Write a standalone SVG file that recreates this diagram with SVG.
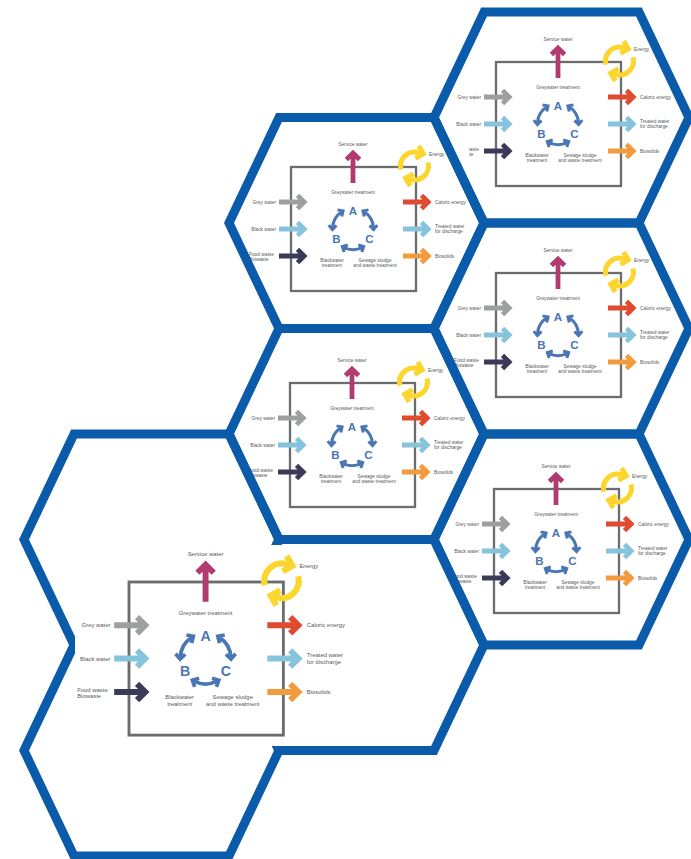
<svg xmlns="http://www.w3.org/2000/svg" xmlns:xlink="http://www.w3.org/1999/xlink" width="691" height="859" viewBox="0 0 691 859">
<style>
.t{font-family:"Liberation Sans",Arial,sans-serif;font-size:4.8px;fill:#58595b}
.m{text-anchor:middle}
.e{text-anchor:end}
.abc{font-family:"Liberation Sans",Arial,sans-serif;font-weight:bold;font-size:11.5px;fill:#4a76b3;text-anchor:middle}
.hex{fill:none;stroke:#0a5ba9;stroke-width:9;stroke-linejoin:miter}
.bg{fill:#ffffff}
</style>
<defs>
  <path id="arr" d="M0,0 H25 M18.5,-6.6 L25.2,0 L18.5,6.6" fill="none" stroke-width="4.8" stroke-linejoin="miter"/>
  <path id="arrUp" d="M0,0 H30 M23.5,-6.6 L30,0 L23.5,6.6" fill="none" stroke-width="4.8" stroke-linejoin="miter"/>
  <path id="ringHalf" d="M-13.5,3.6 A14,14 0 0 1 3.6,-13.5 L7.8,-12.4 M0.9,-7.6 L8.8,-12.1 L4.2,-20" fill="none" stroke-width="5" stroke-linejoin="miter"/>
  <path id="arc" d="M9.31,18.27 A20.5,20.5 0 0 1 -9.31,18.27 M-8.8,23 L-10.7,17.6 L-5.2,16 M8.8,23 L10.7,17.6 L5.2,16" fill="none" stroke="#4a76b3" stroke-width="3" stroke-linejoin="miter"/>
  <g id="dia">
    <rect x="0" y="0" width="125" height="124" fill="none" stroke="#6b6c6e" stroke-width="2.3"/>
    <use href="#arr" x="-12" y="35" stroke="#9e9fa1"/>
    <use href="#arr" x="-12" y="62" stroke="#86c4de"/>
    <use href="#arr" x="-12" y="89" stroke="#3b3a58"/>
    <use href="#arr" x="112" y="35" stroke="#e04a2f"/>
    <use href="#arr" x="112" y="62" stroke="#86c4de"/>
    <use href="#arr" x="112" y="89" stroke="#f29a3c"/>
    <use href="#arrUp" transform="translate(62,16) rotate(-90)" stroke="#b13a70"/>
    <g transform="translate(123.5,-1)" stroke="#fcd62f">
      <use href="#ringHalf"/>
      <use href="#ringHalf" transform="rotate(180)"/>
    </g>
    <g transform="translate(62,62)">
      <use href="#arc"/>
      <use href="#arc" transform="rotate(120)"/>
      <use href="#arc" transform="rotate(240)"/>
    </g>
  </g>
</defs>
<rect x="0" y="0" width="691" height="859" fill="#ffffff"/>

<g id="diagram-c1" transform="translate(496,62)">
  <use href="#dia"/>
  <text class="t m" x="62" y="-21.3">Service water</text>
  <text class="t" x="138" y="-11.3">Energy</text>
  <text class="t m" x="62" y="26.5">Greywater treatment</text>
  <text class="t e" x="-15" y="36.7">Grey water</text>
  <text class="t e" x="-15" y="63.7">Black water</text>
  <text class="t" x="-42" y="89.2">Food waste</text>
  <text class="t" x="-42" y="94">Biowaste</text>
  <text class="t" x="144" y="36.7">Caloric energy</text>
  <text class="t" x="144" y="60.5">Treated water</text>
  <text class="t" x="144" y="66.3">for discharge</text>
  <text class="t" x="144" y="91">Biosolids</text>
  <text class="abc" x="62" y="48">A</text>
  <text class="abc" x="45.5" y="76.3">B</text>
  <text class="abc" x="78.5" y="76.3">C</text>
  <text class="t m" x="41" y="94.8">Blackwater</text>
  <text class="t m" x="41" y="100.3">treatment</text>
  <text class="t m" x="84" y="94.8">Sewage sludge</text>
  <text class="t m" x="84" y="100.3">and waste treatment</text>
</g>

<g id="diagram-c2" transform="translate(496,273)">
  <use href="#dia"/>
  <text class="t m" x="62" y="-21.3">Service water</text>
  <text class="t" x="138" y="-11.3">Energy</text>
  <text class="t m" x="62" y="26.5">Greywater treatment</text>
  <text class="t e" x="-15" y="36.7">Grey water</text>
  <text class="t e" x="-15" y="63.7">Black water</text>
  <text class="t" x="-42" y="89.2">Food waste</text>
  <text class="t" x="-42" y="94">Biowaste</text>
  <text class="t" x="144" y="36.7">Caloric energy</text>
  <text class="t" x="144" y="60.5">Treated water</text>
  <text class="t" x="144" y="66.3">for discharge</text>
  <text class="t" x="144" y="91">Biosolids</text>
  <text class="abc" x="62" y="48">A</text>
  <text class="abc" x="45.5" y="76.3">B</text>
  <text class="abc" x="78.5" y="76.3">C</text>
  <text class="t m" x="41" y="94.8">Blackwater</text>
  <text class="t m" x="41" y="100.3">treatment</text>
  <text class="t m" x="84" y="94.8">Sewage sludge</text>
  <text class="t m" x="84" y="100.3">and waste treatment</text>
</g>

<g id="diagram-c3" transform="translate(494,489)">
  <use href="#dia"/>
  <text class="t m" x="62" y="-21.3">Service water</text>
  <text class="t" x="138" y="-11.3">Energy</text>
  <text class="t m" x="62" y="26.5">Greywater treatment</text>
  <text class="t e" x="-15" y="36.7">Grey water</text>
  <text class="t e" x="-15" y="63.7">Black water</text>
  <text class="t" x="-42" y="89.2">Food waste</text>
  <text class="t" x="-42" y="94">Biowaste</text>
  <text class="t" x="144" y="36.7">Caloric energy</text>
  <text class="t" x="144" y="60.5">Treated water</text>
  <text class="t" x="144" y="66.3">for discharge</text>
  <text class="t" x="144" y="91">Biosolids</text>
  <text class="abc" x="62" y="48">A</text>
  <text class="abc" x="45.5" y="76.3">B</text>
  <text class="abc" x="78.5" y="76.3">C</text>
  <text class="t m" x="41" y="94.8">Blackwater</text>
  <text class="t m" x="41" y="100.3">treatment</text>
  <text class="t m" x="84" y="94.8">Sewage sludge</text>
  <text class="t m" x="84" y="100.3">and waste treatment</text>
</g>

<rect class="bg" x="232" y="135" width="237" height="165"/>
<g id="diagram-b1" transform="translate(291,167)">
  <use href="#dia"/>
  <text class="t m" x="62" y="-21.3">Service water</text>
  <text class="t" x="138" y="-11.3">Energy</text>
  <text class="t m" x="62" y="26.5">Greywater treatment</text>
  <text class="t e" x="-15" y="36.7">Grey water</text>
  <text class="t e" x="-15" y="63.7">Black water</text>
  <text class="t" x="-42" y="89.2">Food waste</text>
  <text class="t" x="-42" y="94">Biowaste</text>
  <text class="t" x="144" y="36.7">Caloric energy</text>
  <text class="t" x="144" y="60.5">Treated water</text>
  <text class="t" x="144" y="66.3">for discharge</text>
  <text class="t" x="144" y="91">Biosolids</text>
  <text class="abc" x="62" y="48">A</text>
  <text class="abc" x="45.5" y="76.3">B</text>
  <text class="abc" x="78.5" y="76.3">C</text>
  <text class="t m" x="41" y="94.8">Blackwater</text>
  <text class="t m" x="41" y="100.3">treatment</text>
  <text class="t m" x="84" y="94.8">Sewage sludge</text>
  <text class="t m" x="84" y="100.3">and waste treatment</text>
</g>

<g id="diagram-b2" transform="translate(290,383)">
  <use href="#dia"/>
  <text class="t m" x="62" y="-21.3">Service water</text>
  <text class="t" x="138" y="-11.3">Energy</text>
  <text class="t m" x="62" y="26.5">Greywater treatment</text>
  <text class="t e" x="-15" y="36.7">Grey water</text>
  <text class="t e" x="-15" y="63.7">Black water</text>
  <text class="t" x="-42" y="89.2">Food waste</text>
  <text class="t" x="-42" y="94">Biowaste</text>
  <text class="t" x="144" y="36.7">Caloric energy</text>
  <text class="t" x="144" y="60.5">Treated water</text>
  <text class="t" x="144" y="66.3">for discharge</text>
  <text class="t" x="144" y="91">Biosolids</text>
  <text class="abc" x="62" y="48">A</text>
  <text class="abc" x="45.5" y="76.3">B</text>
  <text class="abc" x="78.5" y="76.3">C</text>
  <text class="t m" x="41" y="94.8">Blackwater</text>
  <text class="t m" x="41" y="100.3">treatment</text>
  <text class="t m" x="84" y="94.8">Sewage sludge</text>
  <text class="t m" x="84" y="100.3">and waste treatment</text>
</g>

<g id="hexagons">
  <polygon id="hex-c1" class="hex" points="434,117.5 484,12 639,12 689,117.5 639,223 484,223"/>
  <polygon id="hex-c2" class="hex" points="434,328.5 484,223 639,223 689,328.5 639,434 484,434"/>
  <polygon id="hex-c3" class="hex" points="434,539.5 484,434 639,434 689,539.5 639,645 484,645"/>
  <polygon id="hex-b1" class="hex" points="229,223 279,117.5 434,117.5 484,223 434,328.5 279,328.5"/>
  <polygon id="hex-b2" class="hex" points="229,434 279,328.5 434,328.5 484,434 434,539.5 279,539.5"/>
  <polygon id="hex-b3" class="hex" points="229,645 279,539.5 434,539.5 484,645 434,750.5 279,750.5"/>
  <polygon id="hex-a2" class="hex" points="24,539.5 74,434 229,434 279,539.5 229,645 74,645"/>
  <polygon id="hex-a3" class="hex" points="24,750.5 74,645 229,645 279,750.5 229,856 74,856"/>
</g>

<rect class="bg" x="75" y="545" width="285" height="201"/>
<g id="diagram-main" transform="translate(129,582) scale(1.235)">
  <use href="#dia"/>
  <text class="t m" x="62" y="-21.3">Service water</text>
  <text class="t" x="138" y="-11.3">Energy</text>
  <text class="t m" x="62" y="26.5">Greywater treatment</text>
  <text class="t e" x="-15" y="36.7">Grey water</text>
  <text class="t e" x="-15" y="63.7">Black water</text>
  <text class="t" x="-42" y="89.2">Food waste</text>
  <text class="t" x="-42" y="94">Biowaste</text>
  <text class="t" x="144" y="36.7">Caloric energy</text>
  <text class="t" x="144" y="60.5">Treated water</text>
  <text class="t" x="144" y="66.3">for discharge</text>
  <text class="t" x="144" y="91">Biosolids</text>
  <text class="abc" x="62" y="48">A</text>
  <text class="abc" x="45.5" y="76.3">B</text>
  <text class="abc" x="78.5" y="76.3">C</text>
  <text class="t m" x="41" y="94.8">Blackwater</text>
  <text class="t m" x="41" y="100.3">treatment</text>
  <text class="t m" x="84" y="94.8">Sewage sludge</text>
  <text class="t m" x="84" y="100.3">and waste treatment</text>
</g>
</svg>
